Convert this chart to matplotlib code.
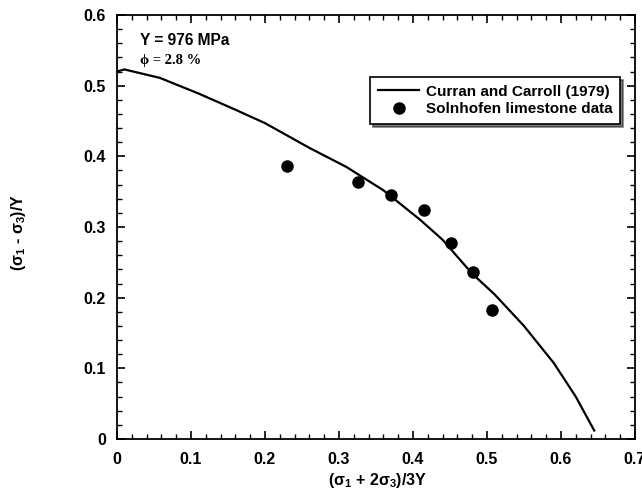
import matplotlib
matplotlib.use('Agg')
import matplotlib.pyplot as plt
import numpy as np

# Curran and Carroll (1979) model curve
model_x = [0.0, 0.01, 0.058, 0.11, 0.16, 0.20, 0.26, 0.31, 0.36, 0.41, 0.44, 0.48, 0.51, 0.55, 0.59, 0.62, 0.645]
model_y = [0.52, 0.523, 0.511, 0.489, 0.466, 0.447, 0.412, 0.385, 0.352, 0.310, 0.282, 0.234, 0.205, 0.160, 0.108, 0.060, 0.012]

# Solnhofen limestone data
data_x = [0.230, 0.326, 0.370, 0.415, 0.451, 0.481, 0.507]
data_y = [0.386, 0.364, 0.345, 0.324, 0.277, 0.236, 0.183]

plt.rcParams['font.family'] = ['Liberation Sans', 'DejaVu Sans']
plt.rcParams['font.weight'] = 'bold'
plt.rcParams['mathtext.fontset'] = 'custom'
plt.rcParams['mathtext.rm'] = 'Liberation Sans:bold'
plt.rcParams['mathtext.it'] = 'Liberation Sans:bold'
plt.rcParams['mathtext.bf'] = 'Liberation Sans:bold'

fig = plt.figure(figsize=(6.42, 4.95), dpi=100)
ax = fig.add_axes([0.1822, 0.1131, 0.8068, 0.8566])

ax.plot(model_x, model_y, color='black', lw=1.6, label='Curran and Carroll (1979)')
ax.plot(data_x, data_y, 'o', color='black', ms=8, label='Solnhofen limestone data')

ax.set_xlim(0, 0.7)
ax.set_ylim(0, 0.6)
ax.set_xticks(np.arange(0, 0.71, 0.1))
ax.set_yticks(np.arange(0, 0.61, 0.1))
ax.set_xticklabels(['0', '0.1', '0.2', '0.3', '0.4', '0.5', '0.6', '0.7'])
ax.set_yticklabels(['0', '0.1', '0.2', '0.3', '0.4', '0.5', '0.6'])
ax.set_xticks(np.arange(0, 0.701, 0.02), minor=True)
ax.set_yticks(np.arange(0, 0.601, 0.02), minor=True)
ax.tick_params(which='both', direction='in', top=True, right=True, labelsize=11.5)
ax.tick_params(axis='x', which='major', pad=9)
ax.tick_params(axis='y', which='major', pad=8)
ax.tick_params(which='major', length=6, width=1.2)
ax.tick_params(which='minor', length=3.5, width=1.0)
for s in ax.spines.values():
    s.set_linewidth(1.3)

ax.text(-0.191, 0.488, r'($\sigma_1$ - $\sigma_3$)/Y', transform=ax.transAxes,
        rotation=90, ha='center', va='center', fontsize=11.5, fontweight='bold')
ax.text(0.502, -0.097, r'($\sigma_1$ + 2$\sigma_3$)/3Y', transform=ax.transAxes,
        ha='center', va='center', fontsize=11.5, fontweight='bold')

ax.text(0.044, 0.94, 'Y = 976 MPa', transform=ax.transAxes, fontsize=11.2, fontweight='bold', va='center')
ax.text(0.044, 0.893, '\u03d5 = 2.8 %', transform=ax.transAxes, fontsize=10.5, fontweight='bold',
        va='center', family=['Liberation Serif', 'DejaVu Serif'])

leg = ax.legend(loc='upper right', bbox_to_anchor=(0.972, 0.854), frameon=True, fancybox=False,
                shadow={'color': 'black'}, edgecolor='black', fontsize=11, handlelength=2.7,
                borderpad=0.5, labelspacing=0.25, handletextpad=0.45, borderaxespad=0)
leg.get_frame().set_linewidth(1.2)
leg.get_frame().set_alpha(1)

fig.savefig('out.png', dpi=100)
